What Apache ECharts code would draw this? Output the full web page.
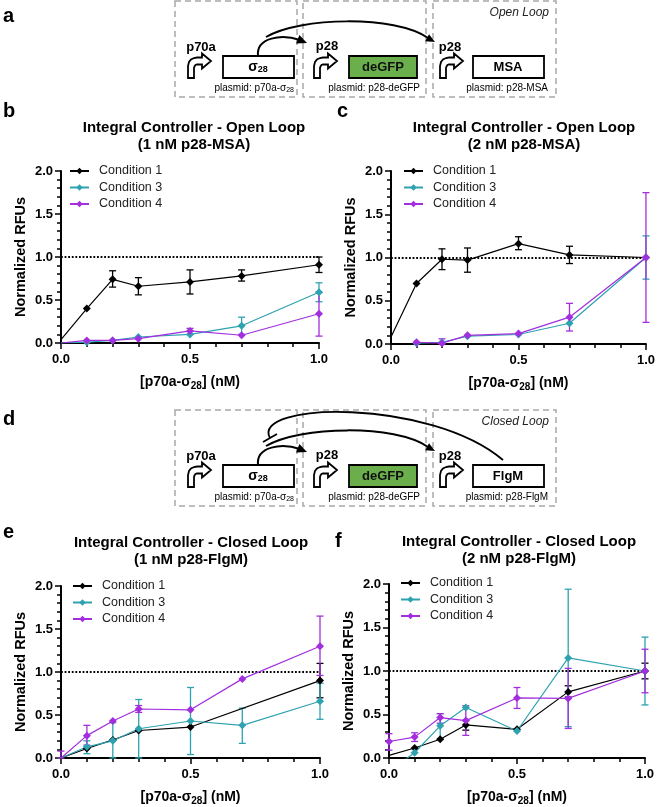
<!DOCTYPE html>
<html><head><meta charset="utf-8">
<script src="https://cdn.jsdelivr.net/npm/echarts@6/dist/echarts.min.js"></script>
<style>html,body{margin:0;padding:0;background:#fff}#c{width:658px;height:807px}</style>
</head><body><div id="c"></div>
<script>
// ---------------- DATA ----------------
const xVals = [0, 0.1, 0.2, 0.3, 0.5, 0.7, 1.0];
const seriesNames = ['Condition 1', 'Condition 3', 'Condition 4'];
const panelTitles = [
  'Integral Controller - Open Loop\n(1 nM p28-MSA)',
  'Integral Controller - Open Loop\n(2 nM p28-MSA)',
  'Integral Controller - Closed Loop\n(1 nM p28-FlgM)',
  'Integral Controller - Closed Loop\n(2 nM p28-FlgM)'
];
// panel b
const bCond1   = [0.04, 0.40, 0.74, 0.66, 0.71, 0.78, 0.91];
const bCond1Lo = [null, null, 0.65, 0.56, 0.57, 0.72, 0.82];
const bCond1Hi = [null, null, 0.84, 0.76, 0.85, 0.85, 1.00];
const bCond3   = [0, 0.01, 0.03, 0.07, 0.10, 0.20, 0.59];
const bCond3Lo = [null, null, null, null, null, 0.10, 0.48];
const bCond3Hi = [null, null, null, null, null, 0.30, 0.70];
const bCond4   = [0, 0.03, 0.03, 0.05, 0.14, 0.09, 0.34];
const bCond4Lo = [null, null, null, null, 0.10, null, 0.08];
const bCond4Hi = [null, null, null, null, 0.17, null, 0.59];
// panel c
const cCond1   = [0.08, 0.70, 0.98, 0.97, 1.16, 1.03, 1.00];
const cCond1Lo = [null, null, 0.86, 0.83, 1.09, 0.93, null];
const cCond1Hi = [null, null, 1.10, 1.11, 1.24, 1.13, null];
const cCond3   = [null, 0.01, 0.02, 0.09, 0.11, 0.24, 1.00];
const cCond3Lo = [null, null, null, null, null, null, 0.75];
const cCond3Hi = [null, null, null, null, null, null, 1.25];
const cCond4   = [null, 0.02, 0.01, 0.10, 0.12, 0.31, 1.00];
const cCond4Lo = [null, null, 0.00, null, null, 0.15, 0.25];
const cCond4Hi = [null, null, 0.06, null, null, 0.47, 1.75];
// panel e
const eCond1   = [0, 0.11, 0.21, 0.32, 0.36, null, 0.90];
const eCond1Lo = [null, null, null, null, null, null, 0.70];
const eCond1Hi = [null, null, null, null, null, null, 1.10];
const eCond3   = [0, 0.13, 0.20, 0.34, 0.43, 0.38, 0.66];
const eCond3Lo = [null, 0.05, 0.00, 0.00, 0.04, 0.17, 0.45];
const eCond3Hi = [null, 0.20, 0.41, 0.68, 0.82, 0.58, 0.87];
const eCond4   = [0, 0.26, 0.43, 0.57, 0.56, 0.92, 1.30];
const eCond4Lo = [0.00, 0.15, null, 0.53, null, null, 0.96];
const eCond4Hi = [0.08, 0.38, null, 0.61, null, null, 1.65];
// panel f
const fCond1   = [0.03, 0.115, 0.215, 0.38, 0.33, 0.76, 1.00];
const fCond1Lo = [null, null, null, 0.32, null, 0.70, 0.91];
const fCond1Hi = [null, null, null, 0.43, null, 0.83, 1.09];
const fCond3   = [-0.15, 0.06, 0.37, 0.58, 0.31, 1.15, 1.00];
const fCond3Lo = [null, null, 0.22, null, null, 0.36, 0.61];
const fCond3Hi = [null, null, 0.51, null, null, 1.94, 1.39];
const fCond4   = [0.19, 0.24, 0.465, 0.43, 0.69, 0.685, 1.00];
const fCond4Lo = [0.09, 0.19, 0.40, 0.26, 0.57, 0.34, 0.75];
const fCond4Hi = [0.28, 0.29, 0.51, 0.60, 0.81, 1.03, 1.25];

// ---------------- STYLE / LAYOUT ----------------
const FONT = "Arial, 'Liberation Sans', sans-serif";
const colors = ['#000000', '#2ea2b0', '#a22ede'];
const grids = [
  {left: 61, top: 171, width: 258, height: 172},
  {left: 391, top: 171, width: 258, height: 173},
  {left: 61, top: 586, width: 259, height: 173},
  {left: 389, top: 584, width: 256, height: 174}
];
const titlePos = [[194, 119], [524, 119], [191, 534], [519, 533]];
const legendPos = [[69, 163], [403, 163], [72, 578], [400, 575]];
const panels = [
  [[bCond1, bCond1Lo, bCond1Hi], [bCond3, bCond3Lo, bCond3Hi], [bCond4, bCond4Lo, bCond4Hi]],
  [[cCond1, cCond1Lo, cCond1Hi], [cCond3, cCond3Lo, cCond3Hi], [cCond4, cCond4Lo, cCond4Hi]],
  [[eCond1, eCond1Lo, eCond1Hi], [eCond3, eCond3Lo, eCond3Hi], [eCond4, eCond4Lo, eCond4Hi]],
  [[fCond1, fCond1Lo, fCond1Hi], [fCond3, fCond3Lo, fCond3Hi], [fCond4, fCond4Lo, fCond4Hi]]
];

const axisNameRich = {
  a: {fontSize: 14, fontWeight: 'bold', fontFamily: FONT, color: '#000'},
  s: {fontSize: 10, fontWeight: 'bold', fontFamily: FONT, color: '#000', padding: [7, 0, 0, 0]}
};

const xAxes = [], yAxes = [], series = [], legends = [], titles = [];
grids.forEach((g, gi) => {
  xAxes.push({
    type: 'value', gridIndex: gi, min: 0, max: 1, interval: 0.5,
    axisLine: {show: true, lineStyle: {color: '#000', width: 2}},
    axisTick: {show: true, length: 6, lineStyle: {color: '#000', width: 1.5}},
    minorTick: {show: true, splitNumber: 5, length: 4, lineStyle: {color: '#000', width: 1.5}},
    splitLine: {show: false}, minorSplitLine: {show: false},
    axisLabel: {fontSize: 13, fontWeight: 'bold', fontFamily: FONT, color: '#000', margin: 10,
      formatter: v => v.toFixed(1)},
    name: '{a|[p70a-σ}{s|28}{a|] (nM)}', nameLocation: 'middle', nameGap: 31,
    nameTextStyle: {rich: axisNameRich}
  });
  yAxes.push({
    type: 'value', gridIndex: gi, min: 0, max: 2, interval: 0.5,
    axisLine: {show: true, lineStyle: {color: '#000', width: 2}},
    axisTick: {show: true, length: 6, lineStyle: {color: '#000', width: 1.5}},
    minorTick: {show: true, splitNumber: 5, length: 4, lineStyle: {color: '#000', width: 1.5}},
    splitLine: {show: false}, minorSplitLine: {show: false},
    axisLabel: {fontSize: 13, fontWeight: 'bold', fontFamily: FONT, color: '#000', margin: 8,
      formatter: v => v.toFixed(1)},
    name: 'Normalized RFUs', nameLocation: 'middle', nameGap: 33, nameRotate: 90,
    nameTextStyle: {fontSize: 14.5, fontWeight: 'bold', fontFamily: FONT, color: '#000'}
  });
  titles.push({
    text: panelTitles[gi], left: titlePos[gi][0], top: titlePos[gi][1], textAlign: 'center', padding: 0,
    textStyle: {fontSize: 15, fontWeight: 'bold', fontFamily: FONT, color: '#000', lineHeight: 17}
  });
  legends.push({
    left: legendPos[gi][0], top: legendPos[gi][1], orient: 'vertical', itemGap: 0.5, padding: 0,
    itemWidth: 19, itemHeight: 8, selectedMode: false, data: seriesNames,
    textStyle: {fontSize: 12.5, fontFamily: FONT, color: '#222', lineHeight: 16, padding: [0, 0, 0, 5]}
  });
  panels[gi].forEach((trip, si) => {
    const [vals, lo, hi] = trip;
    const data = xVals.map((x, i) => [x, vals[i]]).filter(d => d[1] !== null);
    const s = {
      type: 'line', name: seriesNames[si], xAxisIndex: gi, yAxisIndex: gi,
      data: data, symbol: 'diamond',
      symbolSize: (v) => (v[0] === 0 && v[1] < 0.1) ? 0 : 8,
      color: colors[si], lineStyle: {color: colors[si], width: 1.2},
      itemStyle: {color: colors[si]}, z: 5, clip: true, animation: false
    };
    if (si === 0) {
      s.markLine = {silent: true, symbol: 'none', label: {show: false}, animation: false,
        lineStyle: {type: 'dotted', color: '#000', width: 1.8}, data: [{yAxis: 1}]};
    }
    series.push(s);
    const errData = xVals.map((x, i) => lo[i] !== null ? [x, lo[i], hi[i]] : null).filter(Boolean);
    series.push({
      type: 'custom', name: seriesNames[si] + ' err', xAxisIndex: gi, yAxisIndex: gi,
      data: errData, encode: {x: 0, y: [1, 2]}, z: 4, animation: false, silent: true,
      renderItem: (params, api) => {
        const x = api.value(0);
        const pHi = api.coord([x, api.value(2)]);
        const pLo = api.coord([x, api.value(1)]);
        const w = 3.5;
        const st = {stroke: colors[si], lineWidth: 1.3};
        return {type: 'group', children: [
          {type: 'line', shape: {x1: pHi[0], y1: pHi[1], x2: pLo[0], y2: pLo[1]}, style: st},
          {type: 'line', shape: {x1: pHi[0] - w, y1: pHi[1], x2: pHi[0] + w, y2: pHi[1]}, style: st},
          {type: 'line', shape: {x1: pLo[0] - w, y1: pLo[1], x2: pLo[0] + w, y2: pLo[1]}, style: st}
        ]};
      }
    });
  });
});

// ---------------- DIAGRAMS ----------------
function txt(x, y, text, font, align, extra) {
  return {type: 'text', x: x, y: y, silent: true,
    style: Object.assign({text: text, font: font, fill: '#000', align: align || 'center', verticalAlign: 'middle',
      textAlign: align || 'center', textVerticalAlign: 'middle'}, extra || {})};
}
function arrowHead(tx, ty, dx, dy, len, half) {
  const n = Math.hypot(dx, dy); dx /= n; dy /= n;
  const bx = tx - dx * len, by = ty - dy * len;
  return {type: 'polygon', silent: true,
    shape: {points: [[tx, ty], [bx - dy * half, by + dx * half], [bx + dy * half, by - dx * half]]},
    style: {fill: '#000'}};
}
const promoterPts = [[0,22],[0,10],[1,6],[3,3.5],[6,2],[9,1.5],[14,1.5],[14,-2.5],[23,5],[14,12.5],[14,8.5],[9,8.5],[7.5,9],[6.5,10.5],[6,12],[6,22]];
function diagram(T, closed) {
  const els = [];
  [[175, 122], [303, 123], [433, 123]].forEach(([x, w]) => els.push({type: 'rect', silent: true,
    shape: {x: x, y: T, width: w, height: 96},
    style: {fill: 'none', stroke: '#a8a8a8', lineWidth: 1.5, lineDash: [6, 4]}}));
  els.push(txt(549, T + 12, closed ? 'Closed Loop' : 'Open Loop', 'italic 12px ' + FONT, 'right', {fill: '#222'}));
  [188, 314, 440].forEach(x => els.push({type: 'polygon', silent: true, x: x, y: T + 55,
    shape: {points: promoterPts}, style: {fill: '#fff', stroke: '#000', lineWidth: 1.8}}));
  els.push(txt(201, T + 46, 'p70a', 'bold 13px ' + FONT));
  els.push(txt(327, T + 45, 'p28', 'bold 13px ' + FONT));
  els.push(txt(450, T + 46, 'p28', 'bold 13px ' + FONT));
  els.push({type: 'rect', silent: true, shape: {x: 223, y: T + 55, width: 71, height: 22}, style: {fill: '#fff', stroke: '#000', lineWidth: 1.8}});
  els.push({type: 'rect', silent: true, shape: {x: 349, y: T + 55, width: 68, height: 22}, style: {fill: '#6aaf4b', stroke: '#000', lineWidth: 1.8}});
  els.push({type: 'rect', silent: true, shape: {x: 473, y: T + 55, width: 71, height: 22}, style: {fill: '#fff', stroke: '#000', lineWidth: 1.8}});
  els.push(txt(258, T + 66, '{a|σ}{s|28}', 'bold 14px ' + FONT, 'center', {rich: {
    a: {fontSize: 14, fontWeight: 'bold', fontFamily: FONT},
    s: {fontSize: 9, fontWeight: 'bold', fontFamily: FONT, padding: [6, 0, 0, 0]}}}));
  els.push(txt(383, T + 66, 'deGFP', 'bold 13px ' + FONT, 'center', {fill: '#111'}));
  els.push(txt(508, T + 66, closed ? 'FlgM' : 'MSA', 'bold 13px ' + FONT));
  const pRich = {a: {fontSize: 10, fontFamily: FONT}, s: {fontSize: 7, fontFamily: FONT, padding: [4, 0, 0, 0]}};
  els.push(txt(294, T + 87, '{a|plasmid: p70a-σ}{s|28}', '10px ' + FONT, 'right', {rich: pRich}));
  els.push(txt(420, T + 87, 'plasmid: p28-deGFP', '10px ' + FONT, 'right'));
  els.push(txt(548, T + 87, closed ? 'plasmid: p28-FlgM' : 'plasmid: p28-MSA', '10px ' + FONT, 'right'));
  // activation arcs
  els.push({type: 'bezierCurve', silent: true,
    shape: {x1: 258, y1: T + 55, cpx1: 256, cpy1: T + 36, cpx2: 282, cpy2: T + 33, x2: 300, y2: T + 39},
    style: {stroke: '#000', lineWidth: 2, fill: 'none'}});
  els.push(arrowHead(307, T + 42, 1, 0.4, 10, 4.5));
  els.push({type: 'bezierCurve', silent: true,
    shape: {x1: 266, y1: T + 36, cpx1: 300, cpy1: T + 16, cpx2: 395, cpy2: T + 14, x2: 428, y2: T + 37},
    style: {stroke: '#000', lineWidth: 2, fill: 'none'}});
  els.push(arrowHead(435, T + 41, 1, 0.55, 9, 4));
  if (closed) {
    els.push({type: 'bezierCurve', silent: true,
      shape: {x1: 503, y1: T + 50, cpx1: 430, cpy1: T - 12, cpx2: 250, cpy2: T - 8, x2: 270, y2: T + 28},
      style: {stroke: '#000', lineWidth: 1.8, fill: 'none'}});
    els.push({type: 'line', silent: true, shape: {x1: 263, y1: T + 32, x2: 277, y2: T + 24},
      style: {stroke: '#000', lineWidth: 1.8}});
  }
  return els;
}
const letters = [['a', 3, 16], ['b', 3, 111], ['c', 337, 111], ['d', 3, 419], ['e', 3, 532], ['f', 335, 541]];
const graphics = [].concat(diagram(1, false), diagram(410, true),
  letters.map(([t, x, y]) => txt(x, y, t, 'bold 20px ' + FONT, 'left')));

const chart = echarts.init(document.getElementById('c'), null, {renderer: 'canvas'});
chart.setOption({
  backgroundColor: '#fff',
  animation: false,
  title: titles,
  legend: legends,
  grid: grids.map(g => Object.assign({containLabel: false}, g)),
  xAxis: xAxes,
  yAxis: yAxes,
  series: series,
  graphic: {elements: graphics}
});
</script></body></html>
